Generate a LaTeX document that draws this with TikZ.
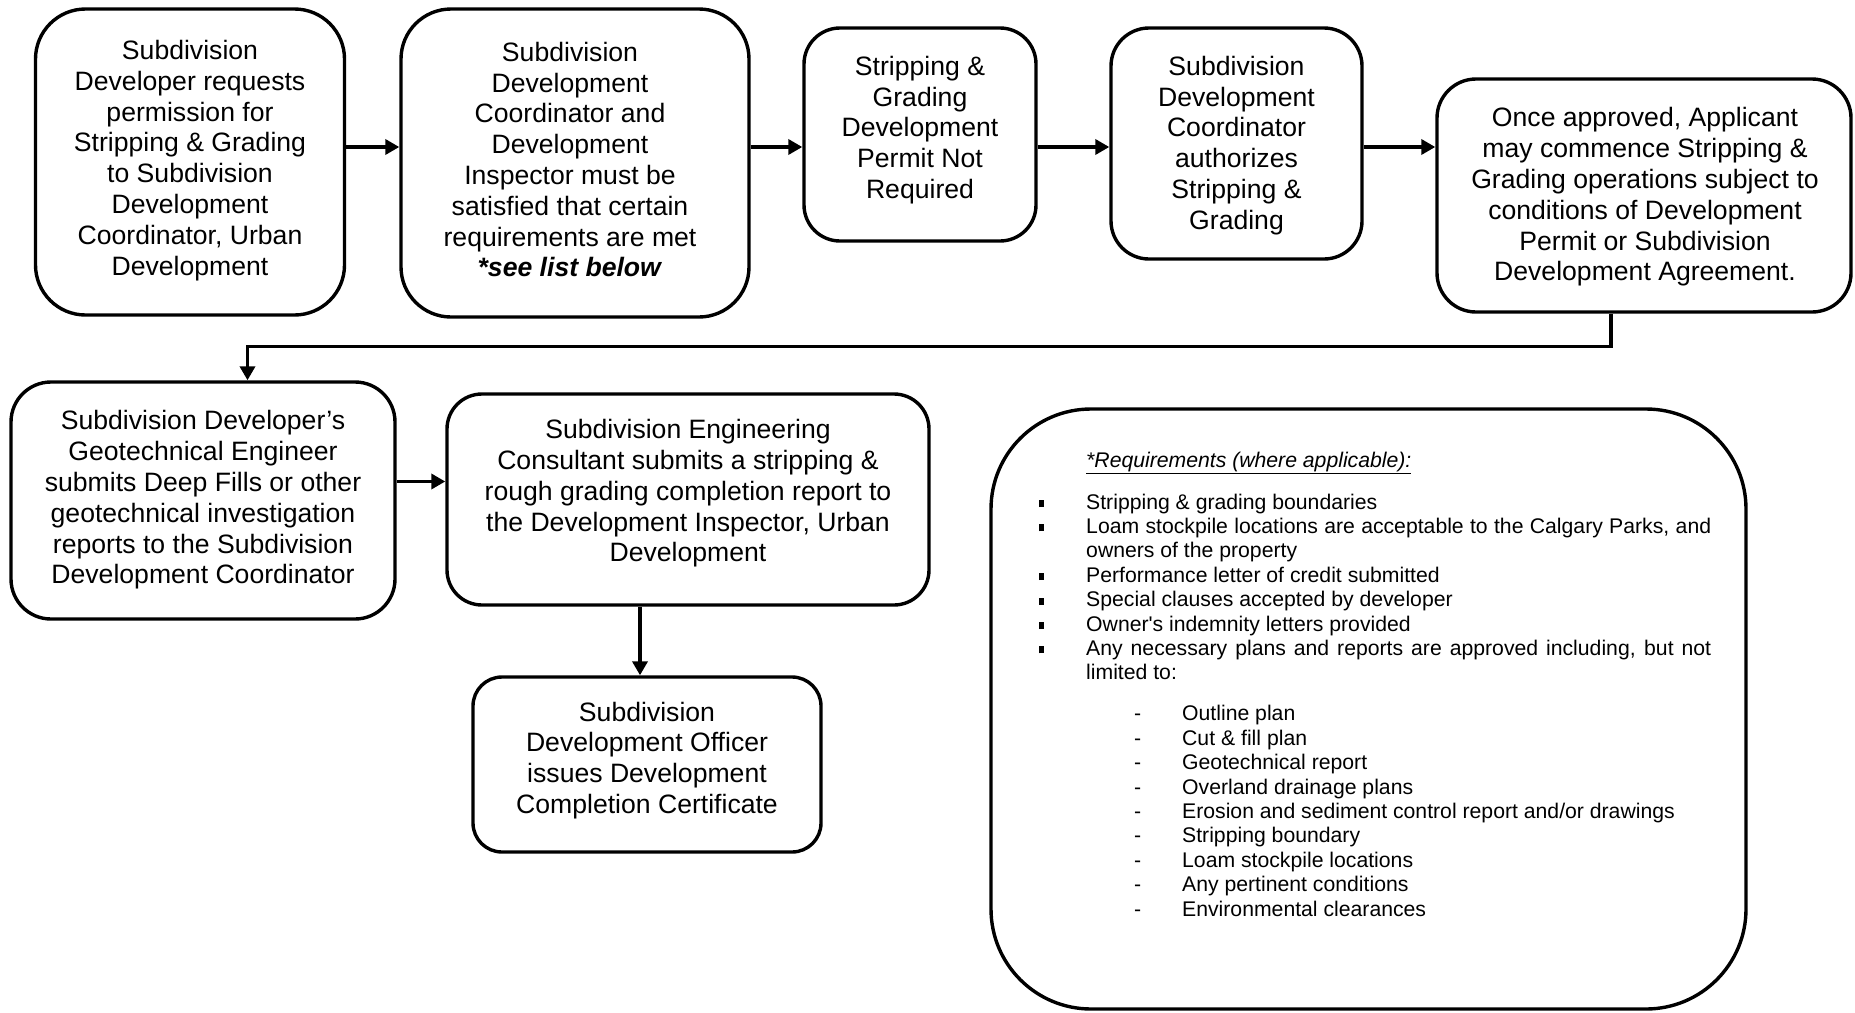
\documentclass[tikz,border=0pt]{standalone}
\usepackage{fontspec}
\setmainfont{Liberation Sans}
\usetikzlibrary{arrows.meta}
\newcommand\boxfont{\fontsize{26.6pt}{30.8pt}\selectfont}
\newcommand\reqfont{\fontsize{21.2pt}{24.4pt}\selectfont}
% square bullet and dash markers for the requirements list
\newcommand\sqitem{\leavevmode\llap{\rule[2pt]{5pt}{7pt}\hspace{42pt}}}
\newcommand\dashitem{\leavevmode\hspace*{96pt}\llap{-\hspace{41pt}}}
\begin{document}
\begin{tikzpicture}[x=1pt,y=-1pt,
  frame/.style={draw, line width=3.4pt, inner sep=0pt},
  txt/.style={align=center, font=\boxfont, inner sep=0pt},
  arr/.style={line width=3.6pt, -{Triangle[length=14pt,width=15pt]}}]
\useasboundingbox (0,0) rectangle (1855,1012);

% top row
\node[frame, minimum width=309pt, minimum height=306pt, rounded corners=50pt] (b1) at (190,162) {};
\node[txt] (t1) at (190,160.5) {Subdivision\\Developer requests\\permission for\\Stripping \& Grading\\to Subdivision\\Development\\Coordinator, Urban\\Development};

\node[frame, minimum width=348pt, minimum height=308pt, rounded corners=50pt] (b2) at (575,163) {};
\node[txt] (t2) at (570,159.5) {Subdivision\\Development\\Coordinator and\\Development\\Inspector must be\\satisfied that certain\\requirements are met\\\textbf{\textit{*see list below}}};

\node[frame, minimum width=232pt, minimum height=213pt, rounded corners=36pt] (b3) at (920,134.5) {};
\node[txt] (t3) at (920,130) {Stripping \&\\Grading\\Development\\Permit Not\\Required};

\node[frame, minimum width=251pt, minimum height=231pt, rounded corners=38pt] (b4) at (1236.5,143.5) {};
\node[txt] (t4) at (1236.5,145.5) {Subdivision\\Development\\Coordinator\\authorizes\\Stripping \&\\Grading};

\node[frame, minimum width=414pt, minimum height=233pt, rounded corners=39pt] (b5) at (1644,195.5) {};
\node[txt] (t5) at (1645,197) {Once approved, Applicant\\may commence Stripping \&\\Grading operations subject to\\conditions of Development\\Permit or Subdivision\\Development Agreement.};

% second row
\node[frame, minimum width=384pt, minimum height=237pt, rounded corners=40pt] (b6) at (203,500.5) {};
\node[txt] (t6) at (203,500) {Subdivision Developer’s\\Geotechnical Engineer\\submits Deep Fills or other\\geotechnical investigation\\reports to the Subdivision\\Development Coordinator};

\node[frame, minimum width=482pt, minimum height=211pt, rounded corners=35pt] (b7) at (688,499.5) {};
\node[txt] (t7) at (688,493.5) {Subdivision Engineering\\Consultant submits a stripping \&\\rough grading completion report to\\the Development Inspector, Urban\\Development};

\node[frame, minimum width=348pt, minimum height=175pt, rounded corners=29pt] (b8) at (647,764.5) {};
\node[txt] (t8) at (647,760.5) {Subdivision\\Development Officer\\issues Development\\Completion Certificate};

% requirements panel
\node[frame, minimum width=755pt, minimum height=600pt, rounded corners=100pt] (req) at (1368.5,709) {};
\node[anchor=base west, inner sep=0pt, text width=625pt, align=justify, font=\reqfont] (reqtext) at (1086,467) {%
{\itshape\underline{*Requirements (where applicable):}}\par
\vspace{17.6pt}
\sqitem Stripping \& grading boundaries\par
\sqitem Loam stockpile locations are acceptable to the Calgary Parks, and\linebreak owners of the property\par
\sqitem Performance letter of credit submitted\par
\sqitem Special clauses accepted by developer\par
\sqitem Owner\textquotesingle s indemnity letters provided\par
\sqitem Any necessary plans and reports are approved including, but not\linebreak limited to:\par
\vspace{16.6pt}
\dashitem Outline plan\par
\dashitem Cut \& fill plan\par
\dashitem Geotechnical report\par
\dashitem Overland drainage plans\par
\dashitem Erosion and sediment control report and/or drawings\par
\dashitem Stripping boundary\par
\dashitem Loam stockpile locations\par
\dashitem Any pertinent conditions\par
\dashitem Environmental clearances\par};

% connectors
\draw[arr] (b1.east |- 0,147) -- (b2.west |- 0,147);
\draw[arr] (b2.east |- 0,147) -- (b3.west |- 0,147);
\draw[arr] (b3.east |- 0,147) -- (b4.west |- 0,147);
\draw[arr] (b4.east |- 0,147) -- (b5.west |- 0,147);
\draw[arr] (b5.south -| 1611,0) -- (1611,346.5) -- (247.5,346.5) -- (b6.north -| 247.5,0);
\draw[arr] (b6.east |- 0,481.5) -- (b7.west |- 0,481.5);
\draw[arr] (b7.south -| 640,0) -- (b8.north -| 640,0);
\end{tikzpicture}
\end{document}
